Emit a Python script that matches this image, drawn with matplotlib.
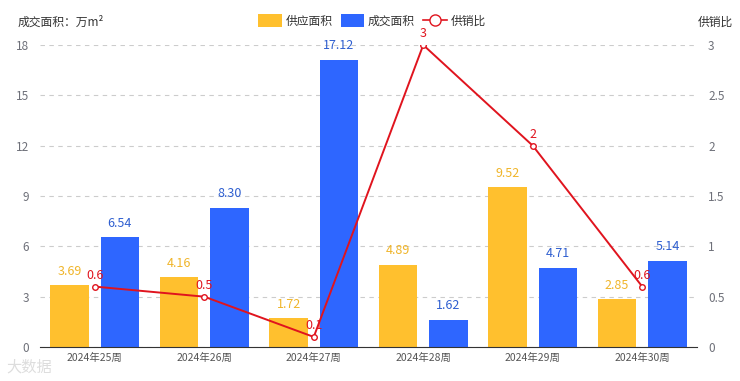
import matplotlib
matplotlib.use('Agg')
import matplotlib.pyplot as plt
from matplotlib.patches import Patch
from matplotlib.lines import Line2D
import numpy as np

plt.rcParams['font.family'] = ['Noto Sans CJK SC', 'DejaVu Sans']

weeks = ['2024年25周', '2024年26周', '2024年27周', '2024年28周', '2024年29周', '2024年30周']
supply = [3.69, 4.16, 1.72, 4.89, 9.52, 2.85]
deal = [6.54, 8.30, 17.12, 1.62, 4.71, 5.14]
ratio = [0.6, 0.5, 0.1, 3, 2, 0.6]

yellow = '#FFC02E'
blue = '#2E66FF'
red = '#E0141E'
grey = '#6E7079'

fig = plt.figure(figsize=(7.4, 3.81), dpi=100)
ax = fig.add_axes([40 / 740, 1 - 347 / 381, 657 / 740, 302 / 381])
ax2 = ax.twinx()

x = np.arange(len(weeks))
w = 0.35
gap = 0.055
ax.bar(x - w / 2 - gap, supply, w, color=yellow, zorder=2)
ax.bar(x + w / 2 + gap, deal, w, color=blue, zorder=2)
for i in range(len(weeks)):
    ax.text(x[i] - w / 2 - gap, supply[i] + 0.45, '%.2f' % supply[i], ha='center', va='bottom',
            color='#F0B52A', fontsize=9)
    ax.text(x[i] + w / 2 + gap, deal[i] + 0.45, '%.2f' % deal[i], ha='center', va='bottom',
            color='#2F5FD0', fontsize=9)

ax.set_xlim(-0.5, len(weeks) - 0.5)
ax.set_ylim(0, 18)
ax.set_yticks(range(0, 19, 3))
ax.set_xticks(x)
ax.set_xticklabels(weeks)
ax.yaxis.grid(True, linestyle=(0, (4, 4)), color='#CCCCCC', linewidth=0.8)
ax.set_axisbelow(True)
for s in ['top', 'left', 'right']:
    ax.spines[s].set_visible(False)
ax.spines['bottom'].set_color('#333333')
ax.tick_params(axis='y', length=0, colors=grey, labelsize=8.5, pad=8)
ax.tick_params(axis='x', length=0, colors='#555555', labelsize=7.5, pad=4)

ax2.plot(x, ratio, color=red, linewidth=1.4, marker='o', markersize=4,
         markerfacecolor='white', markeredgecolor=red, markeredgewidth=1, zorder=3)
for i in range(len(weeks)):
    ax2.text(x[i], ratio[i] + 0.05, ('%g' % ratio[i]), ha='center', va='bottom',
             color=red, fontsize=9)
ax2.set_ylim(0, 3)
ax2.set_yticks([0, 0.5, 1, 1.5, 2, 2.5, 3])
ax2.set_yticklabels(['0', '0.5', '1', '1.5', '2', '2.5', '3'])
for s in ['top', 'left', 'right', 'bottom']:
    ax2.spines[s].set_visible(False)
ax2.tick_params(axis='y', length=0, colors=grey, labelsize=8.5, pad=8)

fig.text(18 / 740, 1 - 22 / 381, '成交面积：万m²', fontsize=8.5, color='#333333', va='center')
fig.text(733 / 740, 1 - 22 / 381, '供销比', fontsize=8.5, color='#333333', va='center', ha='right')

handles = [
    Patch(facecolor=yellow, edgecolor='none'),
    Patch(facecolor=blue, edgecolor='none'),
    Line2D([0], [0], color=red, marker='o', markersize=8, markerfacecolor='white',
           markeredgecolor=red, linewidth=1.2),
]
fig.legend(handles, ['供应面积', '成交面积', '供销比'], loc='center', bbox_to_anchor=(372 / 740, 1 - 21 / 381),
           ncol=3, frameon=False, fontsize=8.5, handlelength=2.0, handleheight=1.3,
           columnspacing=0.7, handletextpad=0.3, labelcolor='#333333')

fig.text(6 / 740, 1 - 367 / 381, '大数据', fontsize=11, color='#DDDDDD', va='center', zorder=0)

fig.savefig('out.png', dpi=100)
